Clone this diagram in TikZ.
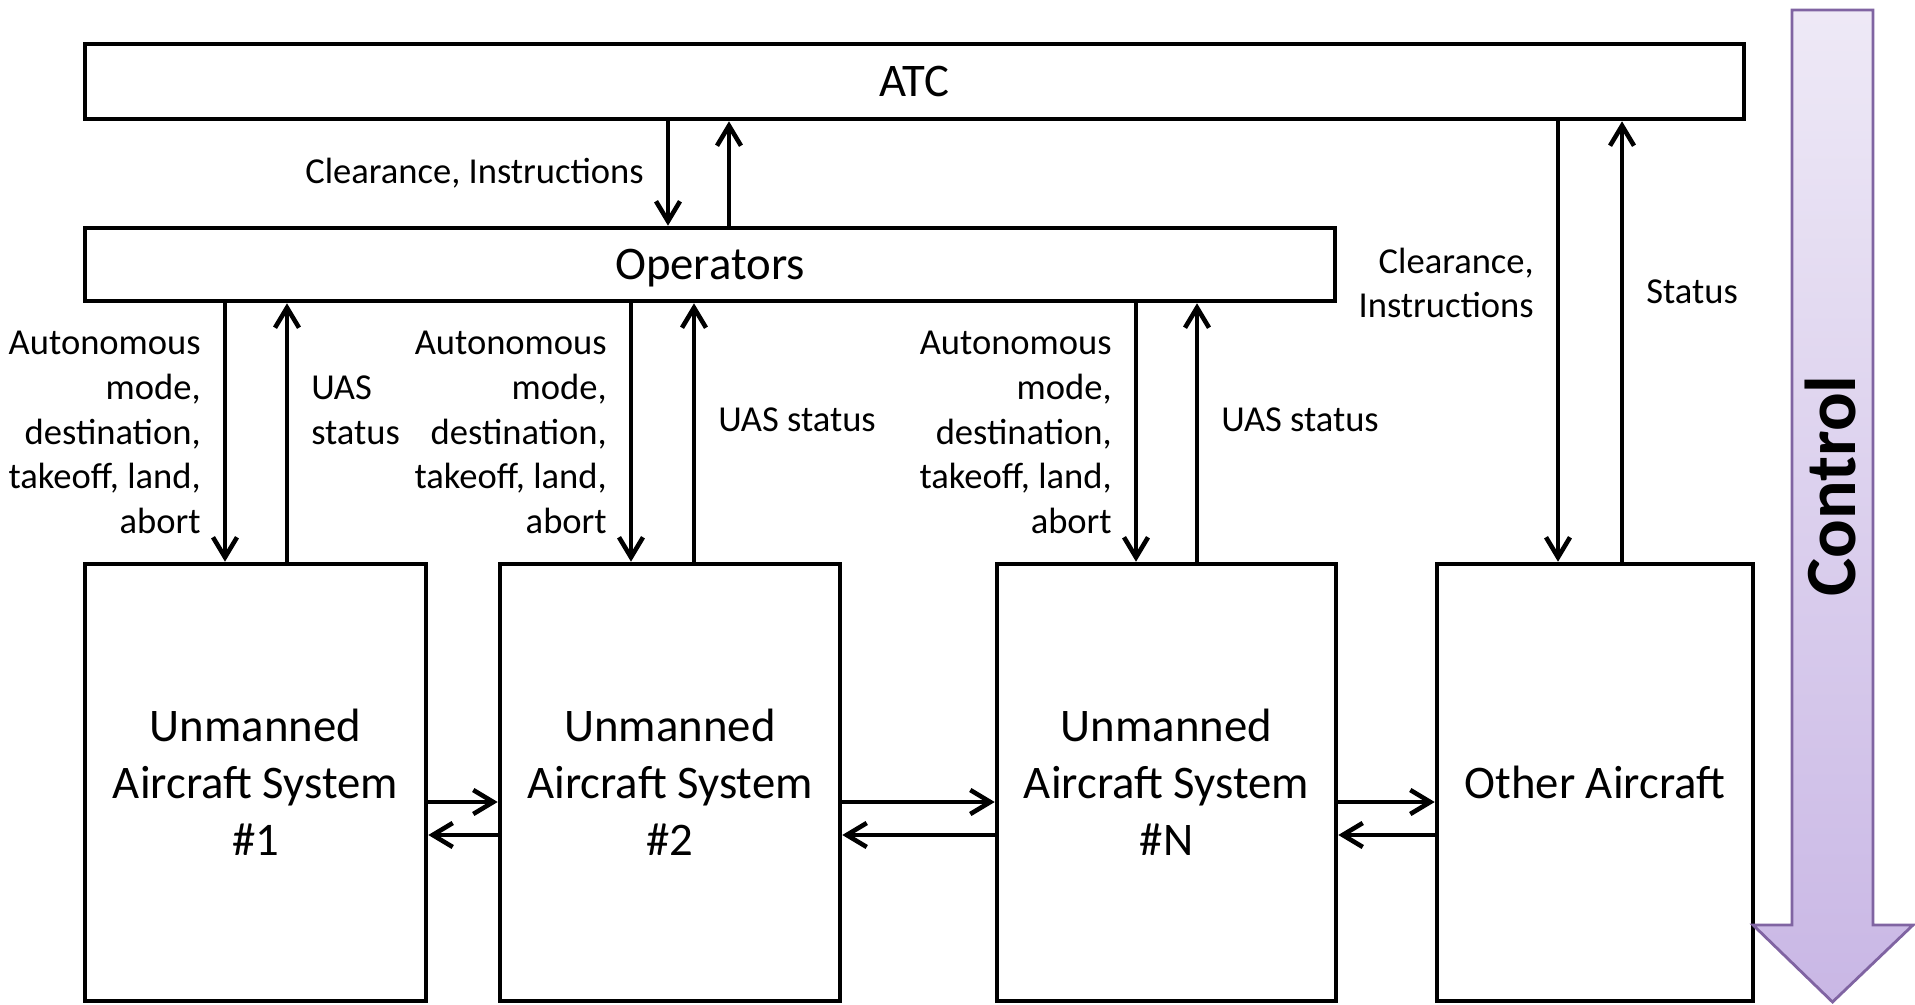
\documentclass[tikz,border=0pt]{standalone}
\usepackage{fontspec}
\setmainfont{Carlito}
\usetikzlibrary{arrows.meta,positioning,calc}
\definecolor{ctrlline}{RGB}{128,100,162}
\definecolor{ctrltop}{RGB}{238,233,246}
\definecolor{ctrlbot}{RGB}{201,183,229}

\begin{document}
\begin{tikzpicture}[
  box/.style={draw,line width=1.3pt,inner sep=0pt,align=center,font=\fontsize{13.3}{16.2}\selectfont},
  uas/.style={box,minimum height=4.37cm},
  lbl/.style={font=\fontsize{10.4}{12.7}\selectfont,inner xsep=2.2mm,inner ysep=0pt},
  flow/.style={line width=1.3pt,-{Straight Barb[length=2mm,width=2.4mm]}}]
\useasboundingbox (0,0) rectangle (19.15,10.04);
\node[box,minimum width=16.59cm,minimum height=0.75cm] (atc) at (9.145,9.225) {ATC};
\node[box,minimum width=12.5cm,minimum height=0.73cm,text depth=0pt] (ops) at (7.10,7.395) {Operators};
\node[uas,minimum width=3.41cm] (uas1) at (2.555,2.215) {Unmanned\\Aircraft System\\\#1};
\node[uas,minimum width=3.40cm] (uas2) at (6.70,2.215) {Unmanned\\Aircraft System\\\#2};
\node[uas,minimum width=3.39cm] (uasn) at (11.665,2.215) {Unmanned\\Aircraft System\\\#N};
\node[uas,minimum width=3.16cm] (other) at (15.95,2.215) {Other Aircraft};

\draw[flow] ([xshift=-4.2mm]ops.north |- atc.south) -- node[lbl,left,align=right]{Clearance, Instructions} ([xshift=-4.2mm]ops.north);
\draw[flow] ([xshift=1.9mm]ops.north) -- ([xshift=1.9mm]ops.north |- atc.south);

\draw[flow] ([xshift=-3.05mm]uas1.north |- ops.south) -- node[lbl,left,align=right]{Autonomous\\mode,\\destination,\\takeoff, land,\\abort} ([xshift=-3.05mm]uas1.north);
\draw[flow] ([xshift=3.15mm]uas1.north) -- node[lbl,right,pos=0.586,align=left]{UAS\\status} ([xshift=3.15mm]uas1.north |- ops.south);

\draw[flow] ([xshift=-3.9mm]uas2.north |- ops.south) -- node[lbl,left,align=right]{Autonomous\\mode,\\destination,\\takeoff, land,\\abort} ([xshift=-3.9mm]uas2.north);
\draw[flow] ([xshift=2.4mm]uas2.north) -- node[lbl,right,pos=0.55]{UAS status} ([xshift=2.4mm]uas2.north |- ops.south);

\draw[flow] ([xshift=-3.05mm]uasn.north |- ops.south) -- node[lbl,left,align=right]{Autonomous\\mode,\\destination,\\takeoff, land,\\abort} ([xshift=-3.05mm]uasn.north);
\draw[flow] ([xshift=3.05mm]uasn.north) -- node[lbl,right,pos=0.55]{UAS status} ([xshift=3.05mm]uasn.north |- ops.south);

\draw[flow] ([xshift=-3.7mm]other.north |- atc.south) -- node[lbl,left,pos=0.367,align=right]{Clearance,\\Instructions} ([xshift=-3.7mm]other.north);
\draw[flow] ([xshift=2.7mm]other.north) -- node[lbl,right,pos=0.613]{Status} ([xshift=2.7mm]other.north |- atc.south);

\foreach \a/\b in {uas1/uas2,uas2/uasn,uasn/other}{
  \draw[flow] ([yshift=-1.95mm]\a.east) -- ([yshift=-1.95mm]\b.west);
  \draw[flow] ([yshift=-5.25mm]\b.west) -- ([yshift=-5.25mm]\a.east);
}

\path[draw=ctrlline,line width=0.8pt,top color=ctrltop,bottom color=ctrlbot]
  (17.92,9.94) -- (18.73,9.94) -- (18.73,0.79) -- (19.13,0.79) -- (18.325,0.02) -- (17.53,0.79) -- (17.92,0.79) -- cycle;
\node[rotate=90,font=\fontsize{20.5}{22}\selectfont\bfseries] (ctrl) at (18.30,5.18) {Control};
\end{tikzpicture}
\end{document}
